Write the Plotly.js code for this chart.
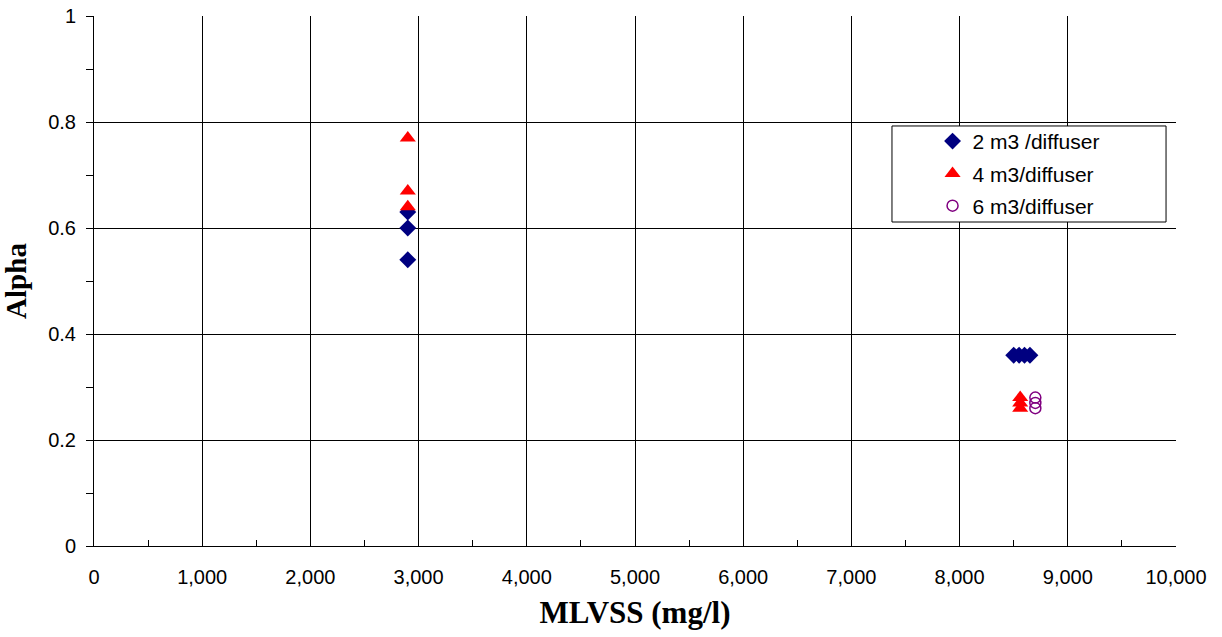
<!DOCTYPE html>
<html>
<head>
<meta charset="utf-8">
<script src="https://cdn.plot.ly/plotly-3.0.1.min.js"></script>
<style>html,body{margin:0;padding:0;background:#fff;}#chart{width:1222px;height:637px;}</style>
</head>
<body>
<div id="chart"></div>
<script>
const seriesNames = ["2 m3 /diffuser", "4 m3/diffuser", "6 m3/diffuser"];
const s1x = [2900, 2900, 2900, 8500, 8550, 8600, 8650];
const s1y = [0.54, 0.60, 0.63, 0.36, 0.36, 0.36, 0.36];
const s2x = [2900, 2900, 2900, 8560, 8560, 8560];
const s2y = [0.77, 0.67, 0.64, 0.26, 0.27, 0.28];
const s3x = [8700, 8700, 8700];
const s3y = [0.26, 0.27, 0.28];

const traces = [
  {x: s1x, y: s1y, name: seriesNames[0], legendgroup: 'a', mode: 'markers', type: 'scatter',
   marker: {symbol: 'diamond', size: 13, color: '#000080'}},
  {x: s2x, y: s2y, name: seriesNames[1], legendgroup: 'b', mode: 'markers', type: 'scatter',
   marker: {symbol: 'triangle-up', size: 14, color: '#FF0000'}},
  {x: s3x, y: s3y, name: seriesNames[2], legendgroup: 'c', mode: 'markers', type: 'scatter',
   marker: {symbol: 'circle-open', size: 11, color: '#800080', line: {width: 1.5, color: '#800080'}}}
];

const layout = {
  width: 1222, height: 637,
  margin: {l: 94, r: 46, t: 16, b: 91},
  paper_bgcolor: '#fff', plot_bgcolor: '#fff',
  font: {family: 'Liberation Sans, Arial, sans-serif', color: '#000', size: 20},
  showlegend: true,
  legend: {
    x: 0.775, y: 0.802, xanchor: 'left', yanchor: 'top',
    borderwidth: 0, bgcolor: 'rgba(0,0,0,0)',
    font: {family: 'Liberation Sans, Arial, sans-serif', size: 21, color: '#000'},
    traceorder: 'grouped', tracegroupgap: 2, itemwidth: 30
  },
  shapes: [{
    type: 'rect', xref: 'paper', yref: 'paper', layer: 'above',
    x0: 0.7375, x1: 0.9908, y0: 0.6113, y1: 0.7925,
    line: {color: '#000', width: 1}, fillcolor: '#fff'
  }],
  xaxis: {
    range: [0, 10000], dtick: 1000, tick0: 0, tickformat: ',',
    showgrid: true, gridcolor: '#000', gridwidth: 1,
    showline: true, linecolor: '#000', linewidth: 1, mirror: false,
    ticks: 'inside', ticklen: 6, tickcolor: '#000', ticklabelstandoff: 13,
    minor: {dtick: 500, ticks: 'inside', ticklen: 6, tickcolor: '#000', showgrid: false},
    zeroline: false,
    tickfont: {size: 20},
    title: {text: 'MLVSS (mg/l)', font: {family: 'Liberation Serif, Times New Roman, serif', size: 31, weight: 'bold'}, standoff: 14}
  },
  yaxis: {
    range: [0, 1], dtick: 0.2, tick0: 0,
    showgrid: true, gridcolor: '#000', gridwidth: 1,
    showline: true, linecolor: '#000', linewidth: 1,
    ticks: 'outside', ticklen: 7, tickcolor: '#000', ticklabelstandoff: 6,
    minor: {dtick: 0.1, ticks: 'outside', ticklen: 7, tickcolor: '#000', showgrid: false},
    zeroline: false,
    tickfont: {size: 20},
    title: {text: 'Alpha', font: {family: 'Liberation Serif, Times New Roman, serif', size: 29, weight: 'bold'}, standoff: 16}
  }
};

Plotly.newPlot('chart', traces, layout, {displayModeBar: false, staticPlot: true});
</script>
</body>
</html>
